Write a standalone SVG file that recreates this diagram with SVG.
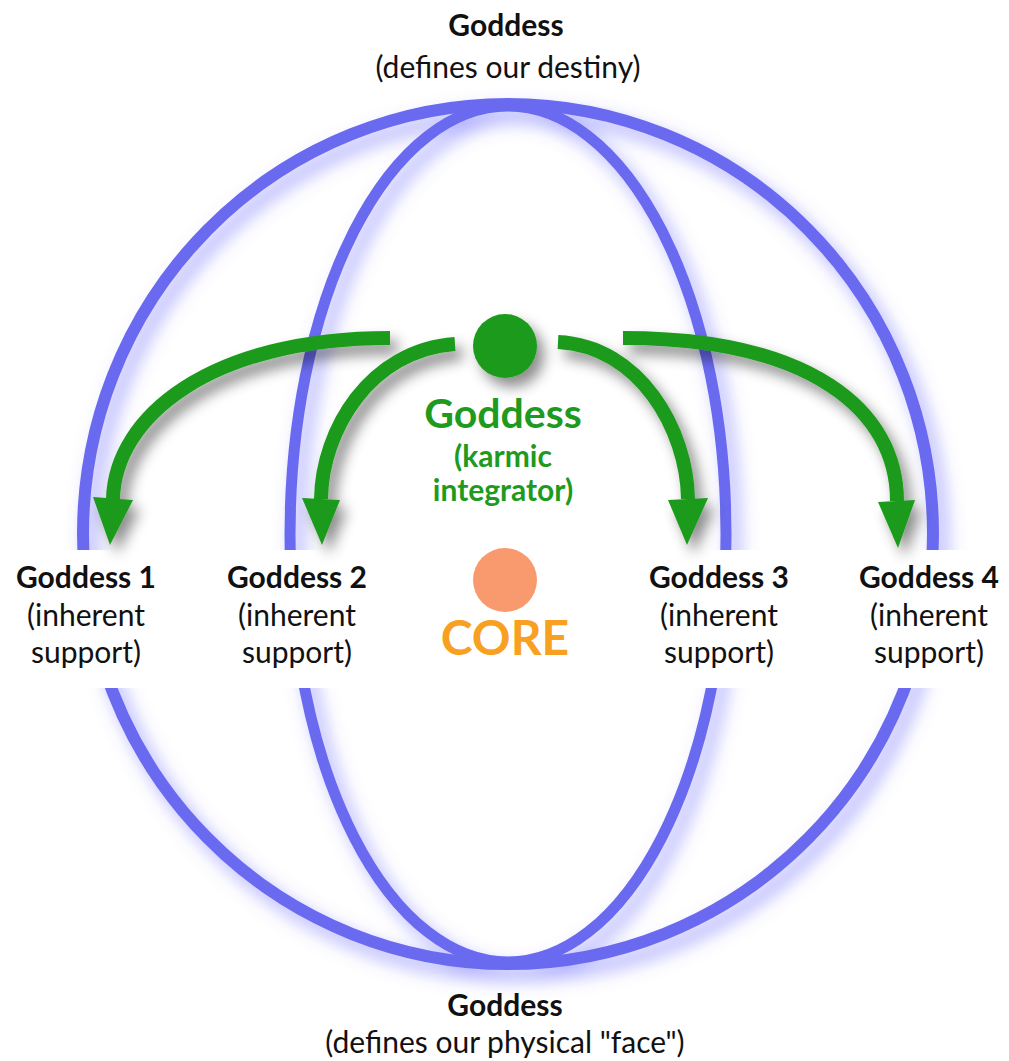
<svg xmlns="http://www.w3.org/2000/svg" width="1009" height="1061" viewBox="0 0 1009 1061">
<defs>
<style>
.lbl{font-family:Lato,"Open Sans",sans-serif;font-size:30px;fill:#111;text-anchor:middle}
.b{font-weight:bold}
.ring{fill:none;stroke:#6b6bf0}
.arrow{fill:none;stroke:#1e9a1e;stroke-width:14;stroke-linecap:butt}
.head{fill:#1e9a1e}
.grn{font-family:Lato,"Open Sans",sans-serif;font-weight:bold;fill:#1e9a1e;text-anchor:middle}
</style>
<filter id="glow" x="-20%" y="-20%" width="140%" height="140%">
<feDropShadow dx="8" dy="10" stdDeviation="9" flood-color="#7070ff" flood-opacity="0.6"/>
</filter>
<filter id="shadow" x="-30%" y="-30%" width="160%" height="160%">
<feDropShadow dx="7" dy="9" stdDeviation="7" flood-color="#000" flood-opacity="0.45"/>
</filter>
</defs>
<rect width="1009" height="1061" fill="#fff"/>
<g id="rings" filter="url(#glow)">
<ellipse class="ring" cx="508" cy="534" rx="425" ry="430" stroke-width="12"/>
<ellipse class="ring" cx="508" cy="534" rx="218" ry="428" stroke-width="11"/>
</g>
<g id="label-masks" fill="#fff">
<rect x="0" y="550" width="172" height="138"/>
<rect x="205" y="550" width="185" height="138"/>
<rect x="628" y="550" width="184" height="138"/>
<rect x="838" y="550" width="171" height="138"/>
</g>
<g id="connectors" filter="url(#shadow)">
<path class="arrow" d="M390 338 C210 338 115 417 113 499"/>
<polygon class="head" points="93,497 133,500 110,545"/>
<path class="arrow" d="M455 344 C370 350 322 430 321 499"/>
<polygon class="head" points="302,498 340,500 322,545"/>
<path class="arrow" d="M558 342 C640 346 687 430 688 499"/>
<polygon class="head" points="668,500 708,498 687,545"/>
<path class="arrow" d="M623 338 C810 338 897 410 897 501"/>
<polygon class="head" points="878,502 915,500 898,548"/>
</g>
<g id="node-integrator">
<circle cx="505" cy="346" r="32" fill="#1e9a1e" filter="url(#shadow)"/>
<text class="grn" x="503" y="428" font-size="41">Goddess</text>
<text class="grn" x="503" y="467" font-size="30">(karmic</text>
<text class="grn" x="503" y="501" font-size="30">integrator)</text>
</g>
<g id="node-core">
<circle cx="505" cy="580" r="32" fill="#f99a6e"/>
<text x="505" y="655" font-family="Lato,'Open Sans',sans-serif" font-weight="bold" font-size="48" fill="#f7a021" text-anchor="middle">CORE</text>
</g>
<g id="node-top">
<text class="lbl b" x="506" y="36">Goddess</text>
<text class="lbl" x="508" y="78">(defines our destiny)</text>
</g>
<g id="node-bottom">
<text class="lbl b" x="505" y="1016">Goddess</text>
<text class="lbl" x="505" y="1053">(defines our physical "face")</text>
</g>
<g id="node-g1">
<text class="lbl b" x="86" y="588">Goddess 1</text>
<text class="lbl" x="86" y="626">(inherent</text>
<text class="lbl" x="86" y="663">support)</text>
</g>
<g id="node-g2">
<text class="lbl b" x="297" y="588">Goddess 2</text>
<text class="lbl" x="297" y="626">(inherent</text>
<text class="lbl" x="297" y="663">support)</text>
</g>
<g id="node-g3">
<text class="lbl b" x="719" y="588">Goddess 3</text>
<text class="lbl" x="719" y="626">(inherent</text>
<text class="lbl" x="719" y="663">support)</text>
</g>
<g id="node-g4">
<text class="lbl b" x="929" y="588">Goddess 4</text>
<text class="lbl" x="929" y="626">(inherent</text>
<text class="lbl" x="929" y="663">support)</text>
</g>
</svg>
